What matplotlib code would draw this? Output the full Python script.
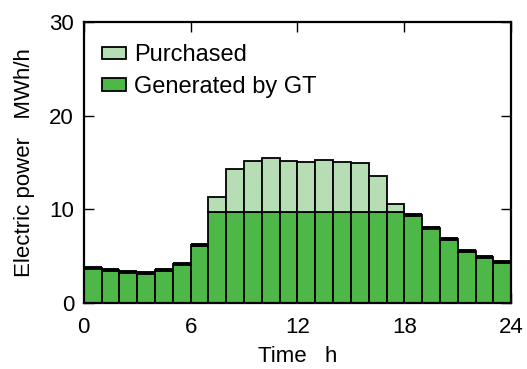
import numpy as np
import matplotlib.pyplot as plt

plt.rcParams['font.family'] = ['Liberation Sans', 'DejaVu Sans']

# hourly values, MWh/h
hours = np.arange(24)
generated = [3.7, 3.5, 3.35, 3.25, 3.55, 4.2, 6.2,
             9.7, 9.7, 9.7, 9.7, 9.7, 9.7, 9.7, 9.7, 9.7, 9.7, 9.7,
             9.4, 8.0, 6.8, 5.6, 4.9, 4.4]
purchased = [0, 0, 0, 0, 0, 0, 0,
             1.65, 4.6, 5.5, 5.8, 5.5, 5.4, 5.6, 5.4, 5.2, 3.9, 0.9,
             0, 0, 0, 0, 0, 0]
xticks = [0, 6, 12, 18, 24]
yticks = [0, 10, 20, 30]

dark_green = '#4db848'
light_green = '#b7ddb5'

fig = plt.figure(figsize=(5.27, 3.69), dpi=100)
ax = fig.add_axes([0.159, 0.179, 0.811, 0.761])

ax.bar(hours, generated, width=1, align='edge', color=dark_green,
       edgecolor='black', linewidth=1.3, label='Generated by GT', zorder=2)
ax.bar(hours, purchased, width=1, align='edge', bottom=generated,
       color=light_green, edgecolor='black', linewidth=1.3,
       label='Purchased', zorder=2)

# thicker top line where nothing is purchased
gen = np.array(generated)
pur = np.array(purchased)
no_buy = pur == 0
ax.hlines(gen[no_buy], hours[no_buy], hours[no_buy] + 1, colors='black',
          linewidth=2.8, zorder=3)

ax.set_xlim(0, 24)
ax.set_ylim(0, 30)
ax.set_xticks(xticks)
ax.set_yticks(yticks)
ax.tick_params(direction='in', length=7, width=1, labelsize=16,
               top=True, right=True)
ax.tick_params(axis='x', pad=10)
ax.tick_params(axis='y', pad=7)
for s in ax.spines.values():
    s.set_linewidth(1.6)

ax.set_xlabel('Time   h', fontsize=16, labelpad=6)
ax.set_ylabel('Electric power   MWh/h', fontsize=16, labelpad=10)

h, l = ax.get_legend_handles_labels()
ax.legend(h[::-1], l[::-1], loc='upper left', frameon=False, fontsize=17,
          handlelength=1.0, handleheight=0.45, handletextpad=0.35,
          labelspacing=0.42, borderaxespad=0.3, bbox_to_anchor=(0.005, 0.98))

fig.savefig('out.png', dpi=100)
